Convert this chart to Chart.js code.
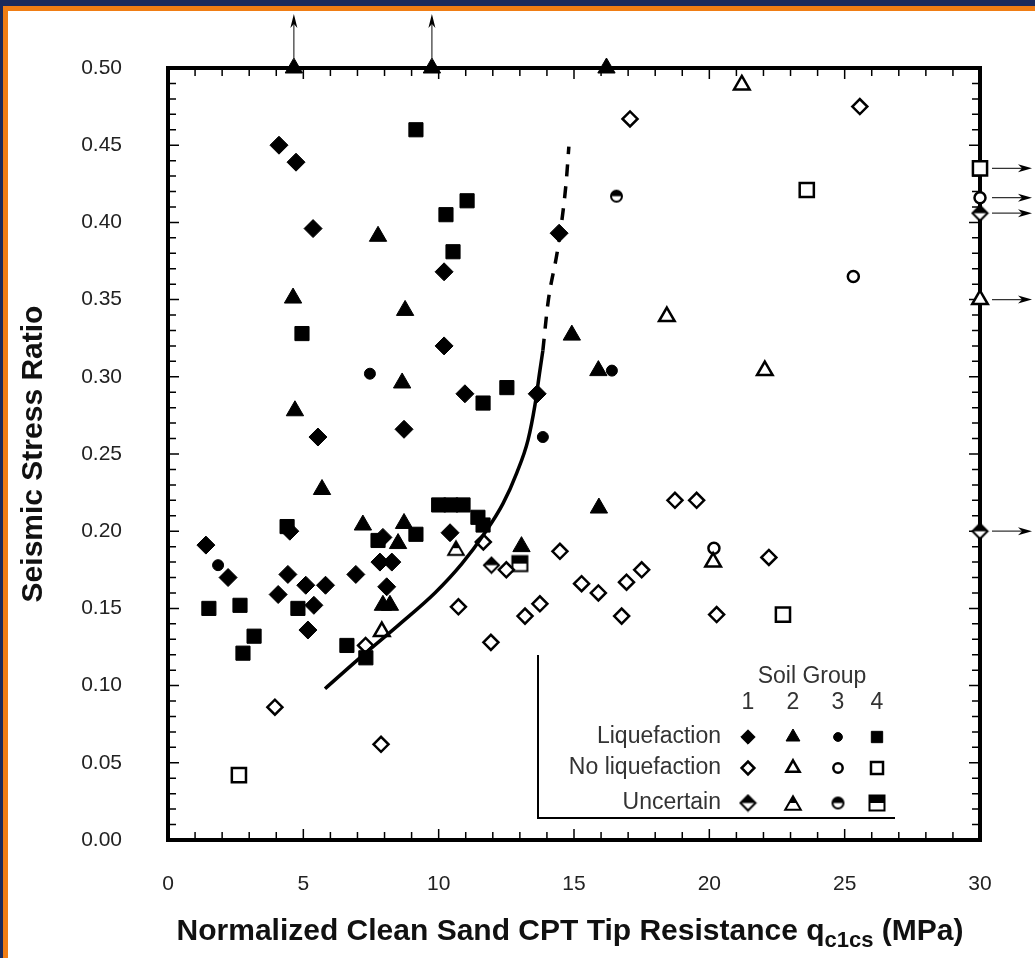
<!DOCTYPE html>
<html>
<head>
<meta charset="utf-8">
<title>Seismic Stress Ratio vs qc1cs</title>
<script src="https://cdn.jsdelivr.net/npm/chart.js@4.4.1/dist/chart.umd.min.js"></script>
<style>
  html, body { margin: 0; padding: 0; background: #1b2a5c; }
  #frame { position: absolute; left: 3px; top: 6px; width: 1032px; height: 952px; box-sizing: border-box;
           border-top: 5px solid #f07d14; border-left: 5px solid #f07d14; background: #fff; }
  #wrap { position: absolute; left: 0; top: 0; width: 1035px; height: 958px; }
</style>
</head>
<body>
<div id="frame"></div>
<div id="wrap"><canvas id="cptchart"></canvas></div>
<script>
// axis ticks
const xTicks = [0, 5, 10, 15, 20, 25, 30];
const yTicks = [0, 0.05, 0.10, 0.15, 0.20, 0.25, 0.30, 0.35, 0.40, 0.45, 0.50];

// [qc1cs (MPa), seismic stress ratio]
const liqSoil1 = [[1.40,0.191],[2.22,0.170],[4.10,0.450],[4.73,0.439],[5.36,0.396],[10.2,0.368],[10.2,0.320],
  [5.54,0.261],[8.72,0.266],[10.97,0.289],[13.64,0.289],[14.45,0.393],[10.42,0.199],[6.94,0.172],[4.43,0.172],
  [5.09,0.165],[5.82,0.165],[4.07,0.159],[5.39,0.152],[5.17,0.136],[4.5,0.200],[7.94,0.196],[7.83,0.180],
  [8.27,0.180],[8.08,0.164]];
const liqSoil2 = [[4.65,0.500],[9.75,0.500],[16.2,0.500],[7.76,0.391],[4.62,0.351],[8.76,0.343],[8.65,0.296],
  [4.69,0.278],[5.69,0.227],[14.92,0.327],[15.9,0.304],[15.92,0.215],[7.2,0.204],[8.72,0.205],[8.5,0.192],
  [7.94,0.152],[8.2,0.152],[13.06,0.190]];
const liqSoil3 = [[1.85,0.178],[7.46,0.302],[13.85,0.261],[16.4,0.304]];
const liqSoil4 = [[9.16,0.460],[10.27,0.405],[11.05,0.414],[10.53,0.381],[4.95,0.328],[12.52,0.293],[11.64,0.283],
  [10.0,0.217],[10.45,0.217],[10.9,0.217],[11.45,0.209],[11.64,0.204],[1.51,0.150],[2.66,0.152],[3.18,0.132],
  [2.77,0.121],[4.8,0.150],[4.4,0.203],[6.61,0.126],[7.31,0.118],[7.76,0.194],[9.16,0.198]];

const noSoil1 = [[3.95,0.086],[7.87,0.062],[17.07,0.467],[25.56,0.475],[11.65,0.193],[10.73,0.151],[14.48,0.187],
  [11.93,0.128],[13.19,0.145],[13.74,0.153],[15.28,0.166],[15.9,0.160],[16.94,0.167],[17.5,0.175],[16.76,0.145],
  [18.73,0.220],[19.53,0.220],[20.27,0.146],[22.2,0.183],[12.5,0.175],[7.3,0.126]];
const noSoil2 = [[21.2,0.489],[18.43,0.339],[22.05,0.304],[20.14,0.180],[7.9,0.135],[30,0.350]];
const noSoil3 = [[25.32,0.365],[20.17,0.189],[30,0.416]];
const noSoil4 = [[23.6,0.421],[22.72,0.146],[2.62,0.042],[30,0.435]];

const uncSoil1 = [[11.95,0.178],[30,0.200],[30,0.406]];
const uncSoil2 = [[10.64,0.189]];
const uncSoil3 = [[16.57,0.417]];
const uncSoil4 = [[13.0,0.179]];

// boundary curve
const curveSolid = [[5.80,0.098],[7.09,0.118],[8.57,0.140],[9.86,0.160],[10.86,0.179],[11.71,0.199],
  [12.38,0.218],[12.89,0.238],[13.30,0.259],[13.56,0.282],[13.74,0.304],[13.85,0.317]];
const curveDashed = [[13.85,0.317],[14.04,0.348],[14.41,0.384],[14.70,0.424],[14.81,0.449]];

// off-scale arrows
const arrowUpX = [4.65, 9.75];
const arrowRightY = [0.435, 0.416, 0.406, 0.350, 0.200];

const groupNames = ['1', '2', '3', '4'];
const rowNames = ['Liquefaction', 'No liquefaction', 'Uncertain'];
const shapes = ['rectRot', 'triangle', 'circle', 'rect'];

function halfMarker(shape, r) {
  const s = Math.ceil(r * 2 + 4);
  const c = document.createElement('canvas');
  c.width = s; c.height = s;
  const g = c.getContext('2d');
  const m = s / 2;
  const p = new Path2D();
  if (shape === 'rectRot') {
    p.moveTo(m, m - r); p.lineTo(m + r, m); p.lineTo(m, m + r); p.lineTo(m - r, m); p.closePath();
  } else if (shape === 'triangle') {
    for (let i = 0; i < 3; i++) {
      const a = i * 2 * Math.PI / 3;
      const px = m + Math.sin(a) * r, py = m + r * 0.25 - Math.cos(a) * r;
      i ? p.lineTo(px, py) : p.moveTo(px, py);
    }
    p.closePath();
  } else if (shape === 'circle') {
    p.arc(m, m, r, 0, Math.PI * 2);
  } else {
    const h = r * 0.75;
    p.rect(m - h, m - h, 2 * h, 2 * h);
  }
  g.fillStyle = '#fff'; g.fill(p);
  g.save(); g.clip(p); g.fillStyle = '#000'; g.fillRect(0, 0, s, m); g.restore();
  g.lineWidth = 2; g.strokeStyle = '#000'; g.stroke(p);
  return c;
}

const fillRadius = [9, 10, 5.5, 10];
const openRadius = [7.5, 9, 5.5, 10];

function pts(arr) { return arr.map(d => ({x: d[0], y: d[1]})); }

function markerSet(label, data, row, g) {
  const base = { label: label, data: pts(data), clip: false, showLine: false, row: row, col: g };
  if (row === 0) {
    return Object.assign(base, { pointStyle: shapes[g], pointRadius: fillRadius[g], pointHoverRadius: fillRadius[g],
      backgroundColor: '#000', borderColor: '#000', borderWidth: 1 });
  }
  if (row === 1) {
    return Object.assign(base, { pointStyle: shapes[g], pointRadius: openRadius[g], pointHoverRadius: openRadius[g],
      backgroundColor: '#fff', borderColor: '#000', borderWidth: 2.5 });
  }
  const img = halfMarker(shapes[g], openRadius[g]);
  return Object.assign(base, { pointStyle: img, pointRadius: openRadius[g], backgroundColor: '#000', borderColor: '#000' });
}

const markerData = [
  [liqSoil1, liqSoil2, liqSoil3, liqSoil4],
  [noSoil1, noSoil2, noSoil3, noSoil4],
  [uncSoil1, uncSoil2, uncSoil3, uncSoil4]
];

const datasets = [
  { label: 'Boundary', data: pts(curveSolid), showLine: true, pointRadius: 0, borderColor: '#000',
    borderWidth: 3.5, cubicInterpolationMode: 'monotone', clip: false },
  { label: 'Boundary (extrapolated)', data: pts(curveDashed), showLine: true, pointRadius: 0, borderColor: '#000',
    borderWidth: 3.5, borderDash: [12, 10], cubicInterpolationMode: 'monotone', clip: false }
];
markerData.forEach((row, r) => row.forEach((arr, g) => {
  datasets.push(markerSet(rowNames[r] + ' ' + groupNames[g], arr, r, g));
}));

// inward ticks + heavy frame
const framePlugin = {
  id: 'frame',
  beforeDatasetsDraw(chart) {
    const {ctx, chartArea: a, scales: {x, y}} = chart;
    ctx.save();
    ctx.strokeStyle = '#000';
    ctx.lineWidth = 1.5;
    ctx.beginPath();
    for (let v = 0; v <= 30; v++) {
      const px = x.getPixelForValue(v);
      const len = v % 5 === 0 ? 11 : 8;
      ctx.moveTo(px, a.top); ctx.lineTo(px, a.top + len);
      ctx.moveTo(px, a.bottom); ctx.lineTo(px, a.bottom - len);
    }
    for (let k = 0; k <= 50; k++) {
      const py = y.getPixelForValue(k / 100);
      const len = k % 5 === 0 ? 11 : 8;
      ctx.moveTo(a.left, py); ctx.lineTo(a.left + len, py);
      ctx.moveTo(a.right, py); ctx.lineTo(a.right - len, py);
    }
    ctx.stroke();
    ctx.lineWidth = 4;
    ctx.strokeRect(a.left, a.top, a.right - a.left, a.bottom - a.top);
    ctx.restore();
  }
};

function arrowHead(ctx, x, y, dir) {
  ctx.beginPath();
  if (dir === 'up') {
    ctx.moveTo(x, y); ctx.lineTo(x - 3.5, y + 14); ctx.lineTo(x, y + 10); ctx.lineTo(x + 3.5, y + 14);
  } else {
    ctx.moveTo(x, y); ctx.lineTo(x - 14, y - 4); ctx.lineTo(x - 10, y); ctx.lineTo(x - 14, y + 4);
  }
  ctx.closePath();
  ctx.fill();
}

const extrasPlugin = {
  id: 'extras',
  afterDraw(chart) {
    const {ctx, chartArea: a, scales: {x, y}} = chart;
    ctx.save();
    ctx.strokeStyle = '#333';
    ctx.fillStyle = '#000';
    ctx.lineWidth = 1.2;
    arrowUpX.forEach(v => {
      const px = x.getPixelForValue(v);
      ctx.beginPath(); ctx.moveTo(px, a.top - 8); ctx.lineTo(px, 20); ctx.stroke();
      arrowHead(ctx, px, 14, 'up');
    });
    arrowRightY.forEach(v => {
      const py = y.getPixelForValue(v);
      ctx.beginPath(); ctx.moveTo(a.right + 12, py); ctx.lineTo(1025, py); ctx.stroke();
      arrowHead(ctx, 1032, py, 'right');
    });

    // legend block
    const lx = a.left + 370, lb = a.bottom - 22, lt = lb - 163;
    ctx.strokeStyle = '#000';
    ctx.lineWidth = 2;
    ctx.beginPath(); ctx.moveTo(lx, lt); ctx.lineTo(lx, lb); ctx.lineTo(lx + 357, lb); ctx.stroke();
    const colX = [lx + 210, lx + 255, lx + 300, lx + 339];
    const rowY = [lb - 81, lb - 50, lb - 15];
    ctx.fillStyle = '#333';
    ctx.font = '23px "Liberation Sans", Arial, sans-serif';
    ctx.textBaseline = 'middle';
    ctx.textAlign = 'center';
    ctx.fillText('Soil Group', lx + 274, lb - 141);
    groupNames.forEach((n, i) => ctx.fillText(n, colX[i], lb - 115));
    ctx.textAlign = 'right';
    rowNames.forEach((n, i) => ctx.fillText(n, lx + 183, rowY[i]));
    const drawPoint = Chart.helpers && Chart.helpers.drawPoint;
    chart.data.datasets.forEach(ds => {
      if (ds.row === undefined || !drawPoint) return;
      ctx.fillStyle = ds.backgroundColor;
      ctx.strokeStyle = ds.borderColor;
      ctx.lineWidth = ds.borderWidth || 1;
      const r = ds.row === 0 ? ds.pointRadius * 0.8 : ds.pointRadius * 0.85;
      drawPoint(ctx, {pointStyle: ds.pointStyle, radius: r, borderWidth: ds.borderWidth || 1, rotation: 0},
        colX[ds.col], rowY[ds.row]);
    });

    // x axis title with subscript
    ctx.fillStyle = '#111';
    ctx.textAlign = 'left';
    ctx.textBaseline = 'alphabetic';
    const big = 'bold 30px "Liberation Sans", Arial, sans-serif';
    const small = 'bold 22px "Liberation Sans", Arial, sans-serif';
    const t1 = 'Normalized Clean Sand CPT Tip Resistance q', t2 = 'c1cs', t3 = ' (MPa)';
    ctx.font = big; const w1 = ctx.measureText(t1).width, w3 = ctx.measureText(t3).width;
    ctx.font = small; const w2 = ctx.measureText(t2).width;
    let sx = (a.left + a.right) / 2 - 4 - (w1 + w2 + w3) / 2;
    const base = 940;
    ctx.font = big; ctx.fillText(t1, sx, base); sx += w1;
    ctx.font = small; ctx.fillText(t2, sx, base + 7); sx += w2;
    ctx.font = big; ctx.fillText(t3, sx, base);
    ctx.restore();
  }
};

new Chart(document.getElementById('cptchart'), {
  type: 'scatter',
  data: { datasets: datasets },
  options: {
    responsive: true,
    maintainAspectRatio: false,
    animation: false,
    layout: { padding: { top: 68, right: 55, left: 0, bottom: 0 } },
    plugins: { legend: { display: false }, tooltip: { enabled: false } },
    scales: {
      x: {
        type: 'linear', min: 0, max: 30,
        afterFit: s => { s.height = 118; },
        afterBuildTicks: s => { s.ticks = xTicks.map(v => ({value: v})); },
        grid: { display: false, drawTicks: false },
        border: { display: false },
        ticks: { color: '#222', padding: 32, font: { size: 21, family: '"Liberation Sans", Arial, sans-serif' } },
        title: { display: false }
      },
      y: {
        type: 'linear', min: 0, max: 0.5,
        afterFit: s => { s.width = 168; },
        afterBuildTicks: s => { s.ticks = yTicks.map(v => ({value: v})); },
        grid: { display: false, drawTicks: false },
        border: { display: false },
        ticks: { color: '#222', padding: 46, font: { size: 21, family: '"Liberation Sans", Arial, sans-serif' },
                 callback: v => v.toFixed(2) },
        title: { display: true, text: 'Seismic Stress Ratio', color: '#111', padding: { top: 16, bottom: 0 },
                 font: { size: 30, weight: 'bold', family: '"Liberation Sans", Arial, sans-serif' } }
      }
    }
  },
  plugins: [framePlugin, extrasPlugin]
});
</script>
</body>
</html>
